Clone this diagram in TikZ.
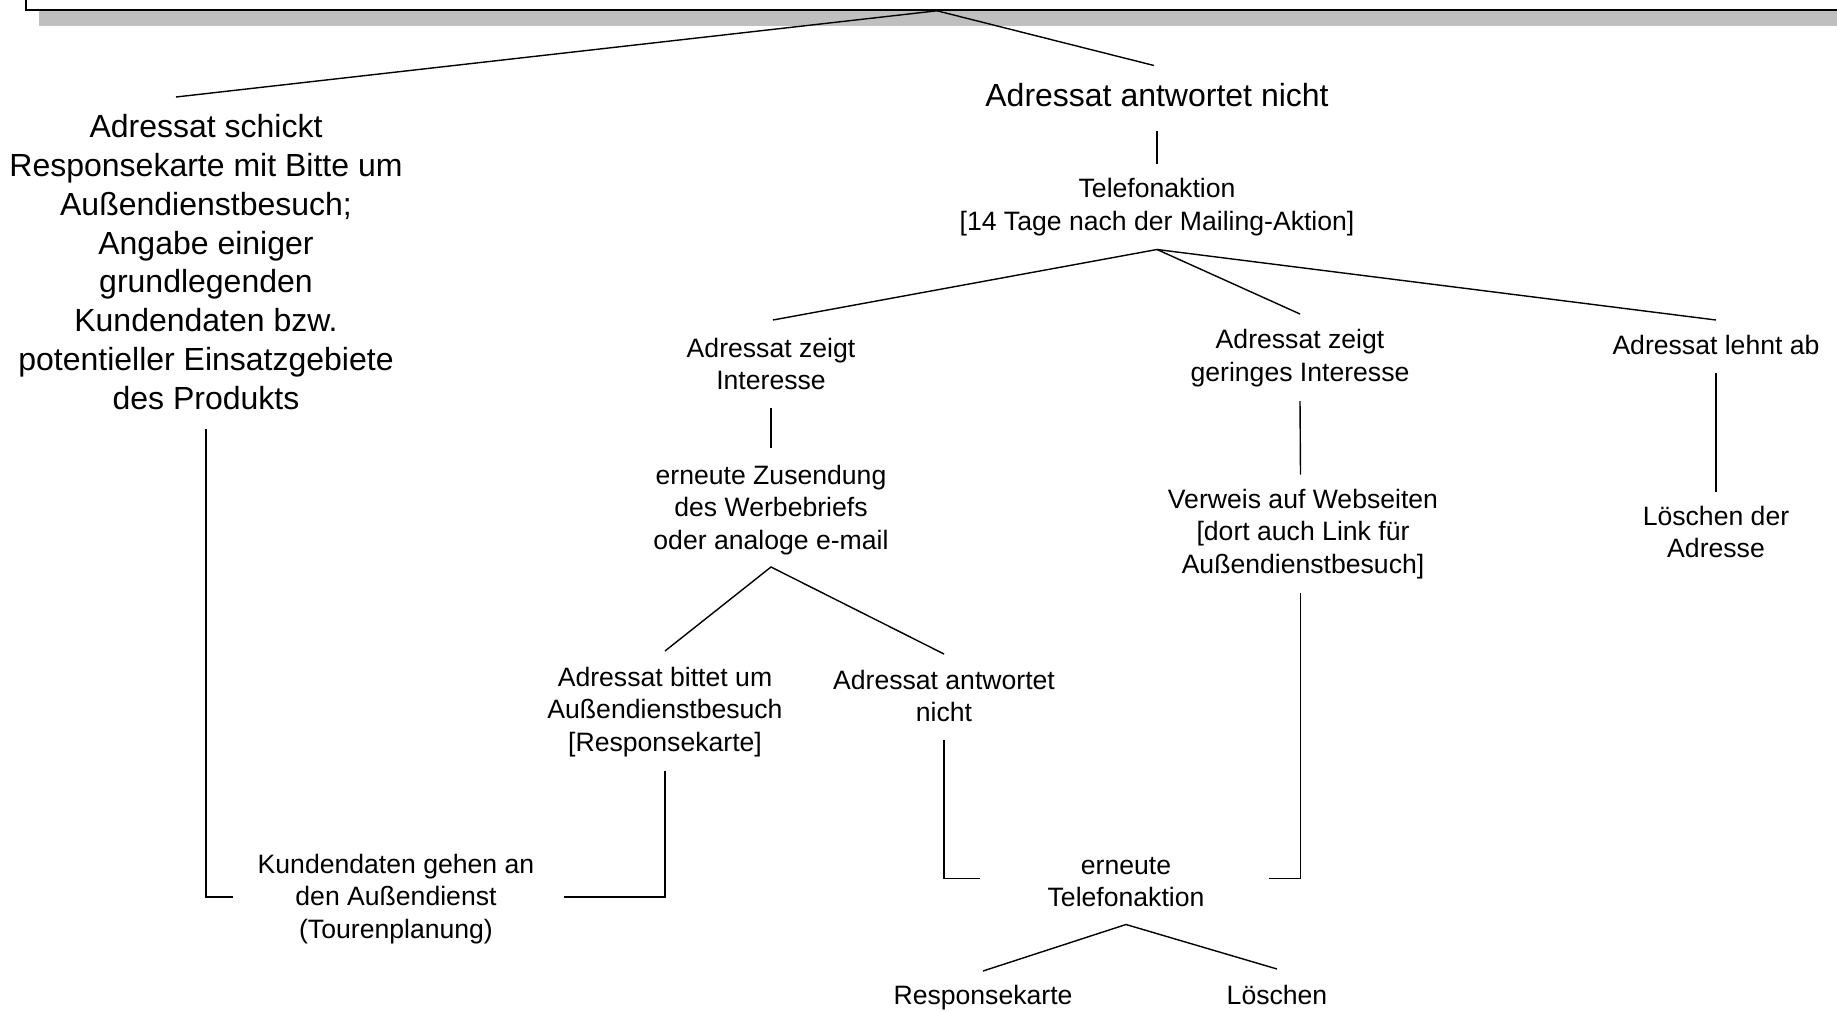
\documentclass[tikz,border=0pt]{standalone}
\usepackage{fontspec}
\setmainfont{Liberation Sans}
\usetikzlibrary{calc, shadows}

\begin{document}
\begin{tikzpicture}[x=0.5pt, y=-0.5pt, line width=0.7pt,
   bigtext/.style={align=center, inner sep=0pt, font=\fontsize{16}{19.4}\selectfont},
   smalltext/.style={align=center, inner sep=0pt, font=\fontsize{13.3}{16.4}\selectfont}]
   \useasboundingbox (0,0) rectangle (1837,1012);
   \clip (0,0) rectangle (1837,1012);

   % Mailing box at the top (cut off)
   \node[draw, fill=white, line width=0.8pt, minimum width=911pt, minimum height=25pt, inner sep=0pt,
      general shadow={fill=gray!50, shadow xshift=6.5pt, shadow yshift=-8pt}] (mailing) at (937,-15) {};

   % Left branch
   \node[bigtext] (schickt) at (206,262) {Adressat schickt\\Responsekarte mit Bitte um\\Außendienstbesuch;\\Angabe einiger\\grundlegenden\\Kundendaten bzw.\\potentieller Einsatzgebiete\\des Produkts};
   \node[smalltext] (kunden) at (396,899) {Kundendaten gehen an\\den Außendienst\\(Tourenplanung)};

   % Right branch
   \node[bigtext] (nicht) at (1157,95) {Adressat antwortet nicht};
   \node[smalltext] (tel) at (1157,207) {Telefonaktion\\{[}14 Tage nach der Mailing-Aktion{]}};

   % Answers to the phone call
   \node[smalltext] (int) at (771,364) {Adressat zeigt\\Interesse};
   \node[smalltext] (ger) at (1300,358) {Adressat zeigt\\geringes Interesse};
   \node[smalltext] (ablehn) at (1716,345) {Adressat lehnt ab};

   \node[smalltext] (zus) at (771,510) {erneute Zusendung\\des Werbebriefs\\oder analoge e-mail};
   \node[smalltext] (verweis) at (1303,534) {Verweis auf Webseiten\\{[}dort auch Link für\\Außendienstbesuch{]}};
   \node[smalltext] (adresse) at (1716,532) {Löschen der\\Adresse};

   \node[smalltext] (bittet) at (665,712) {Adressat bittet um\\Außendienstbesuch\\{[}Responsekarte{]}};
   \node[smalltext] (antw) at (944,696) {Adressat antwortet\\nicht};

   % Second phone call
   \node[smalltext] (erneut) at (1126,882) {erneute\\Telefonaktion};
   \node[smalltext] (resp) at (983,998) {Responsekarte};
   \node[smalltext] (loeschen) at (1277,995) {Löschen};

   % Connectors
   \draw (mailing.south) -- ($(schickt)+(-30,-165)$);
   \draw (mailing.south) -- ($(nicht)+(-3,-29.5)$);
   \draw ($(nicht)+(0,36)$) -- ($(tel)+(0,-43)$);
   \draw ($(int)+(2,-44)$) -- ($(tel)+(0,42.5)$) -- ($(ablehn)+(0,-25)$);
   \draw ($(tel)+(0,42.5)$) -- ($(ger)+(0,-44)$);
   \draw ($(int)+(0,44)$) -- ($(zus)+(0,-62)$);
   \draw ($(ger)+(0,43)$) -- ($(verweis)+(-2.5,-59.5)$);
   \draw ($(ablehn)+(0,28)$) -- ($(adresse)+(0,-40)$);
   \draw ($(bittet)+(0,-61)$) -- ($(zus)+(0,57)$) -- ($(antw)+(0,-42)$);
   \draw ($(schickt)+(0,167)$) |- ($(kunden)+(-163,-2)$);
   \draw ($(bittet)+(0,59)$) |- ($(kunden)+(167.5,-2)$);
   \draw ($(antw)+(0,44)$) |- ($(erneut)+(-146.5,-3.5)$);
   \draw ($(verweis)+(-2.5,59)$) |- ($(erneut)+(143,-3.5)$);
   \draw ($(resp)+(0,-27)$) -- ($(erneut)+(0,42.5)$) -- ($(loeschen)+(0,-26)$);
\end{tikzpicture}
\end{document}
